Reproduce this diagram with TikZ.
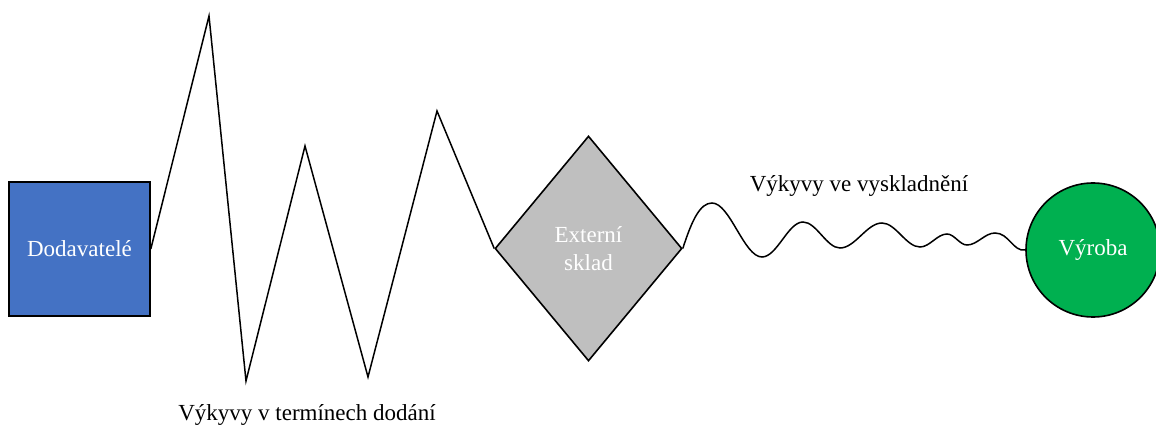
\documentclass[tikz,border=0pt]{standalone}
\usepackage{fontspec}
\setmainfont{Liberation Serif}
\usepackage{xcolor}
\usetikzlibrary{shapes.geometric}
\definecolor{dodblue}{HTML}{4472C4}
\definecolor{skladgray}{HTML}{BFBFBF}
\definecolor{vyrgreen}{HTML}{00B050}

\begin{document}
\begin{tikzpicture}[x=0.5pt,y=-0.5pt,
  every node/.style={font=\fontsize{11.5}{13.8}\selectfont},
  part/.style={draw=black,line width=0.8pt,text=white,inner sep=0pt,align=center},
  flow/.style={line width=0.75pt,line join=miter}]
\useasboundingbox (0,0) rectangle (1156,427);
\node[part,rectangle,fill=dodblue,minimum width=70.5pt,minimum height=67pt] (dod) at (79.5,249) {Dodavatelé};
\node[part,diamond,fill=skladgray,minimum width=93.5pt,minimum height=112.5pt] (ext) at (588.5,248.5) {Externí\\sklad};
\node[part,circle,fill=vyrgreen,minimum size=67pt] (vyr) at (1093,250) {Výroba};
\draw[flow] (dod.east)--(209,16)--(246,381)--(305,146)--(368,377)--(437,111)--(ext.west);
% vykyvy ve vyskladneni
\draw[flow] (ext.east) .. controls +(9,-28) and +(-12,0) .. (712,203)
  .. controls +(18,0) and +(-18,0) .. (762,257)
  .. controls +(15,0) and +(-15,0) .. (803,222)
  .. controls +(13.4,0) and +(-13.4,0) .. (840,248)
  .. controls +(15.2,0) and +(-15.2,0) .. (882,223)
  .. controls +(13.8,0) and +(-13.8,0) .. (920,247)
  .. controls +(9.8,0) and +(-9.8,0) .. (947,234)
  .. controls +(7.3,0) and +(-7.3,0) .. (967,245)
  .. controls +(10.2,0) and +(-10.2,0) .. (995,233)
  .. controls +(14,0) and +(-12,2) .. (vyr.west);
\node (dodlbl) at (307,415) {Výkyvy v termínech dodání};
\node (vyslbl) at (859,186) {Výkyvy ve vyskladnění};
\end{tikzpicture}
\end{document}
